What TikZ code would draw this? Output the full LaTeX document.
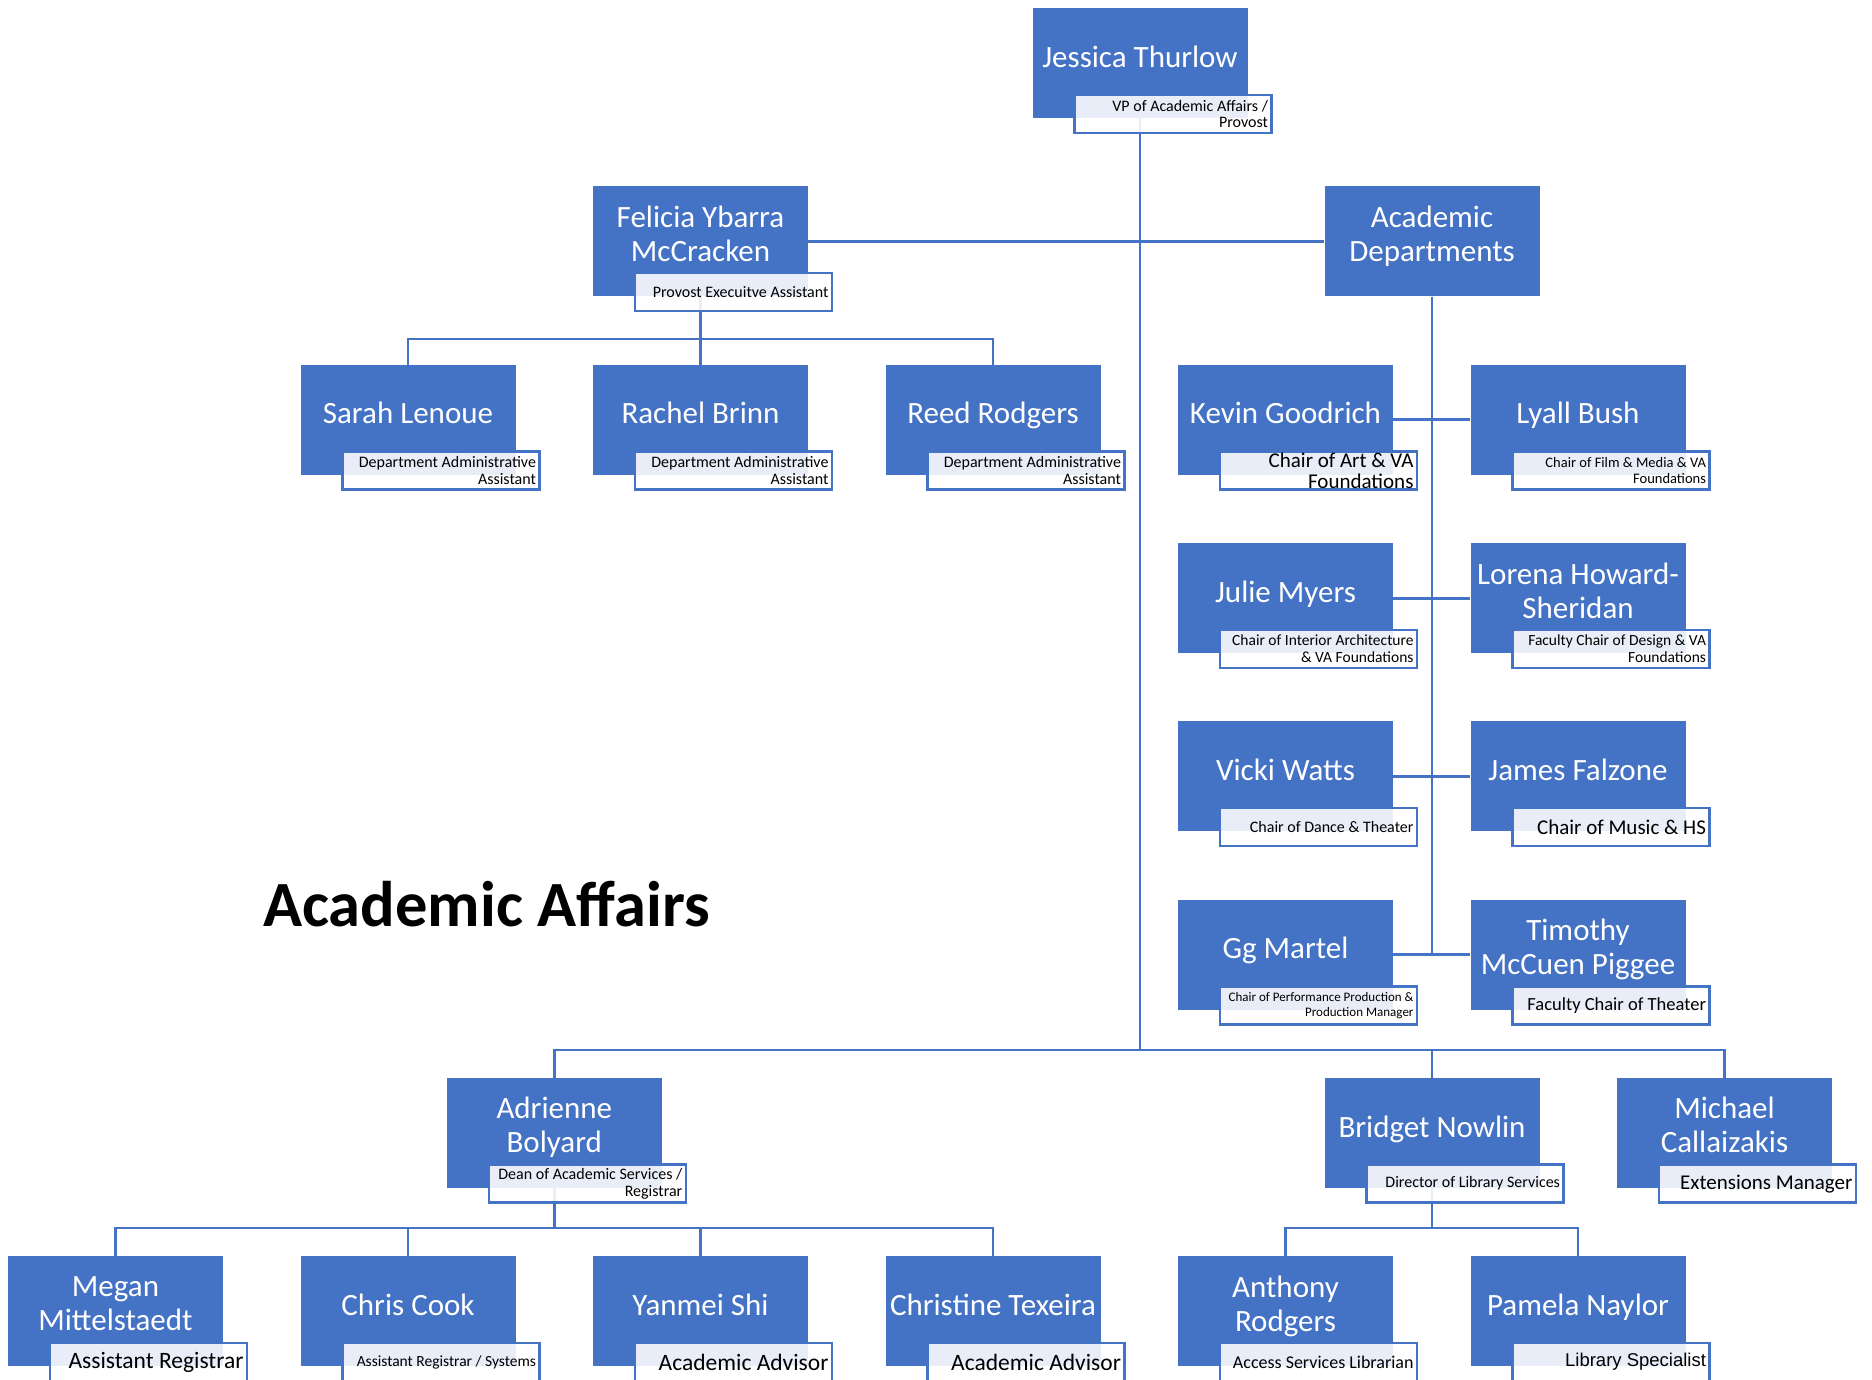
\documentclass[tikz,border=0pt]{standalone}
\usepackage{fontspec}
\setmainfont{Carlito}
\newfontfamily\arialfont{Liberation Sans}
\definecolor{boxblue}{HTML}{4472C4}
% blue box with the name in its upper part
\newcommand{\person}[4]{%
  \node[namebox] (#1) at (#2,#3) {};
  \node[nametext] (#1-name) at ([yshift=-52.5pt]#1.north) {#4};}
% job title tag over the lower right corner
\newcommand{\jobtitle}[4]{%
  \node[titlebox, font={\fontsize{#2}{#3}\selectfont}] (#1-title) at ([xshift=33pt,yshift=4.5pt]#1.south) {#4};}

\begin{document}
\begin{tikzpicture}[x=1pt, y=-1pt,
    namebox/.style={rectangle, fill=boxblue, minimum width=215pt, minimum height=110pt, anchor=north, inner sep=0pt},
    nametext/.style={text=white, align=center, inner sep=0pt, font={\fontsize{31}{34}\selectfont},
      execute at begin node=\strut, execute at end node=\strut},
    titlebox/.style={rectangle, draw=boxblue, line width=2.5pt, fill=white, fill opacity=0.88, text opacity=1,
      minimum width=197pt, minimum height=38pt, text width=190pt, align=flush right, inner xsep=1pt, inner ysep=0pt},
    link/.style={draw=boxblue, line width=2.8pt}]
      \useasboundingbox (0,0) rectangle (1872,1380);

      % people
      \person{jt}{1140}{8}{Jessica Thurlow}
      \person{fym}{700.5}{186.3}{Felicia Ybarra\\McCracken}
      \person{ad}{1432}{186.3}{Academic\\Departments}
      \person{sl}{408}{364.6}{Sarah Lenoue}
      \person{rb}{700.5}{364.6}{Rachel Brinn}
      \person{rr}{993}{364.6}{Reed Rodgers}
      \person{kg}{1285.5}{364.6}{Kevin Goodrich}
      \person{lb}{1578}{364.6}{Lyall Bush}
      \person{jm}{1285.5}{542.9}{Julie Myers}
      \person{lhs}{1578}{542.9}{Lorena Howard-\\Sheridan}
      \person{vw}{1285.5}{721.2}{Vicki Watts}
      \person{jf}{1578}{721.2}{James Falzone}
      \person{gm}{1285.5}{899.5}{Gg Martel}
      \person{tmp}{1578}{899.5}{Timothy\\McCuen Piggee}
      \person{ab}{554.3}{1077.8}{Adrienne\\Bolyard}
      \person{bn}{1432}{1077.8}{Bridget Nowlin}
      \person{mc}{1724.5}{1077.8}{Michael\\Callaizakis}
      \person{mm}{115.5}{1256.1}{Megan\\Mittelstaedt}
      \person{cc}{408}{1256.1}{Chris Cook}
      \person{ys}{700.5}{1256.1}{Yanmei Shi}
      \person{ctx}{993}{1256.1}{Christine Texeira}
      \person{ar}{1285.5}{1256.1}{Anthony\\Rodgers}
      \person{pn}{1578}{1256.1}{Pamela Naylor}

      % bus lines
      \coordinate (bus) at (0,1050);
      \coordinate (fbus) at (0,339);
      \coordinate (abus) at (0,1228);

      % top level
      \draw[link] (jt.south) -- (jt.south |- bus);
      \draw[link] (fym.east) -- (ad.west);

      % Felicia's team
      \draw[link] (fym.south) -- (rb.north);
      \draw[link] (sl.north) -- (sl.north |- fbus) -- (rr.north |- fbus) -- (rr.north);

      % academic departments
      \draw[link] (ad.south) -- (ad.south |- gm.east);
      \foreach \a/\b in {kg/lb, jm/lhs, vw/jf, gm/tmp}
        \draw[link] (\a.east) -- (\b.west);

      % bottom bus
      \draw[link] (ab.north) -- (ab.north |- bus) -- (mc.north |- bus) -- (mc.north);
      \draw[link] (bn.north) -- (bn.north |- bus);

      % Adrienne's team
      \draw[link] (ab.south) -- (ab.south |- abus);
      \draw[link] (mm.north) -- (mm.north |- abus) -- (ctx.north |- abus) -- (ctx.north);
      \foreach \n in {cc, ys}
        \draw[link] (\n.north) -- (\n.north |- abus);

      % Bridget's team
      \draw[link] (bn.south) -- (bn.south |- abus);
      \draw[link] (ar.north) -- (ar.north |- abus) -- (pn.north |- abus) -- (pn.north);

      % job titles
      \jobtitle{jt}{16}{16.5}{VP of Academic Affairs /\\Provost}
      \jobtitle{fym}{16}{16.5}{Provost Execuitve Assistant}
      \foreach \n in {sl, rb, rr}{
        \jobtitle{\n}{16}{16.5}{Department Administrative\\Assistant}}
      \jobtitle{kg}{21}{21}{Chair of Art \& VA\\Foundations}
      \jobtitle{lb}{14.5}{16.5}{Chair of Film \& Media \& VA\\Foundations}
      \jobtitle{jm}{15.5}{16.5}{Chair of Interior Architecture\\\& VA Foundations}
      \jobtitle{lhs}{15.5}{16.5}{Faculty Chair of Design \& VA\\Foundations}
      \jobtitle{vw}{16}{16.5}{Chair of Dance \& Theater}
      \jobtitle{jf}{21}{21}{Chair of Music \& HS}
      \jobtitle{gm}{13}{15}{Chair of Performance Production \&\\Production Manager}
      \jobtitle{tmp}{18.5}{20}{Faculty Chair of Theater}
      \jobtitle{ab}{16}{16.5}{Dean of Academic Services /\\Registrar}
      \jobtitle{bn}{16}{16.5}{Director of Library Services}
      \jobtitle{mc}{21}{22}{Extensions Manager}
      \jobtitle{mm}{23.5}{24}{Assistant Registrar}
      \jobtitle{cc}{15.5}{16.5}{Assistant Registrar / Systems}
      \jobtitle{ys}{23.5}{24}{Academic Advisor}
      \jobtitle{ctx}{23.5}{24}{Academic Advisor}
      \jobtitle{ar}{18}{20}{Access Services Librarian}
      \jobtitle{pn}{18.5}{20}{\arialfont Library Specialist}

      % heading
      \node[anchor=west, inner sep=0pt, font={\fontsize{64.5}{70}\selectfont\bfseries}] (heading) at (263,904) {Academic Affairs};
    \end{tikzpicture}
\end{document}
